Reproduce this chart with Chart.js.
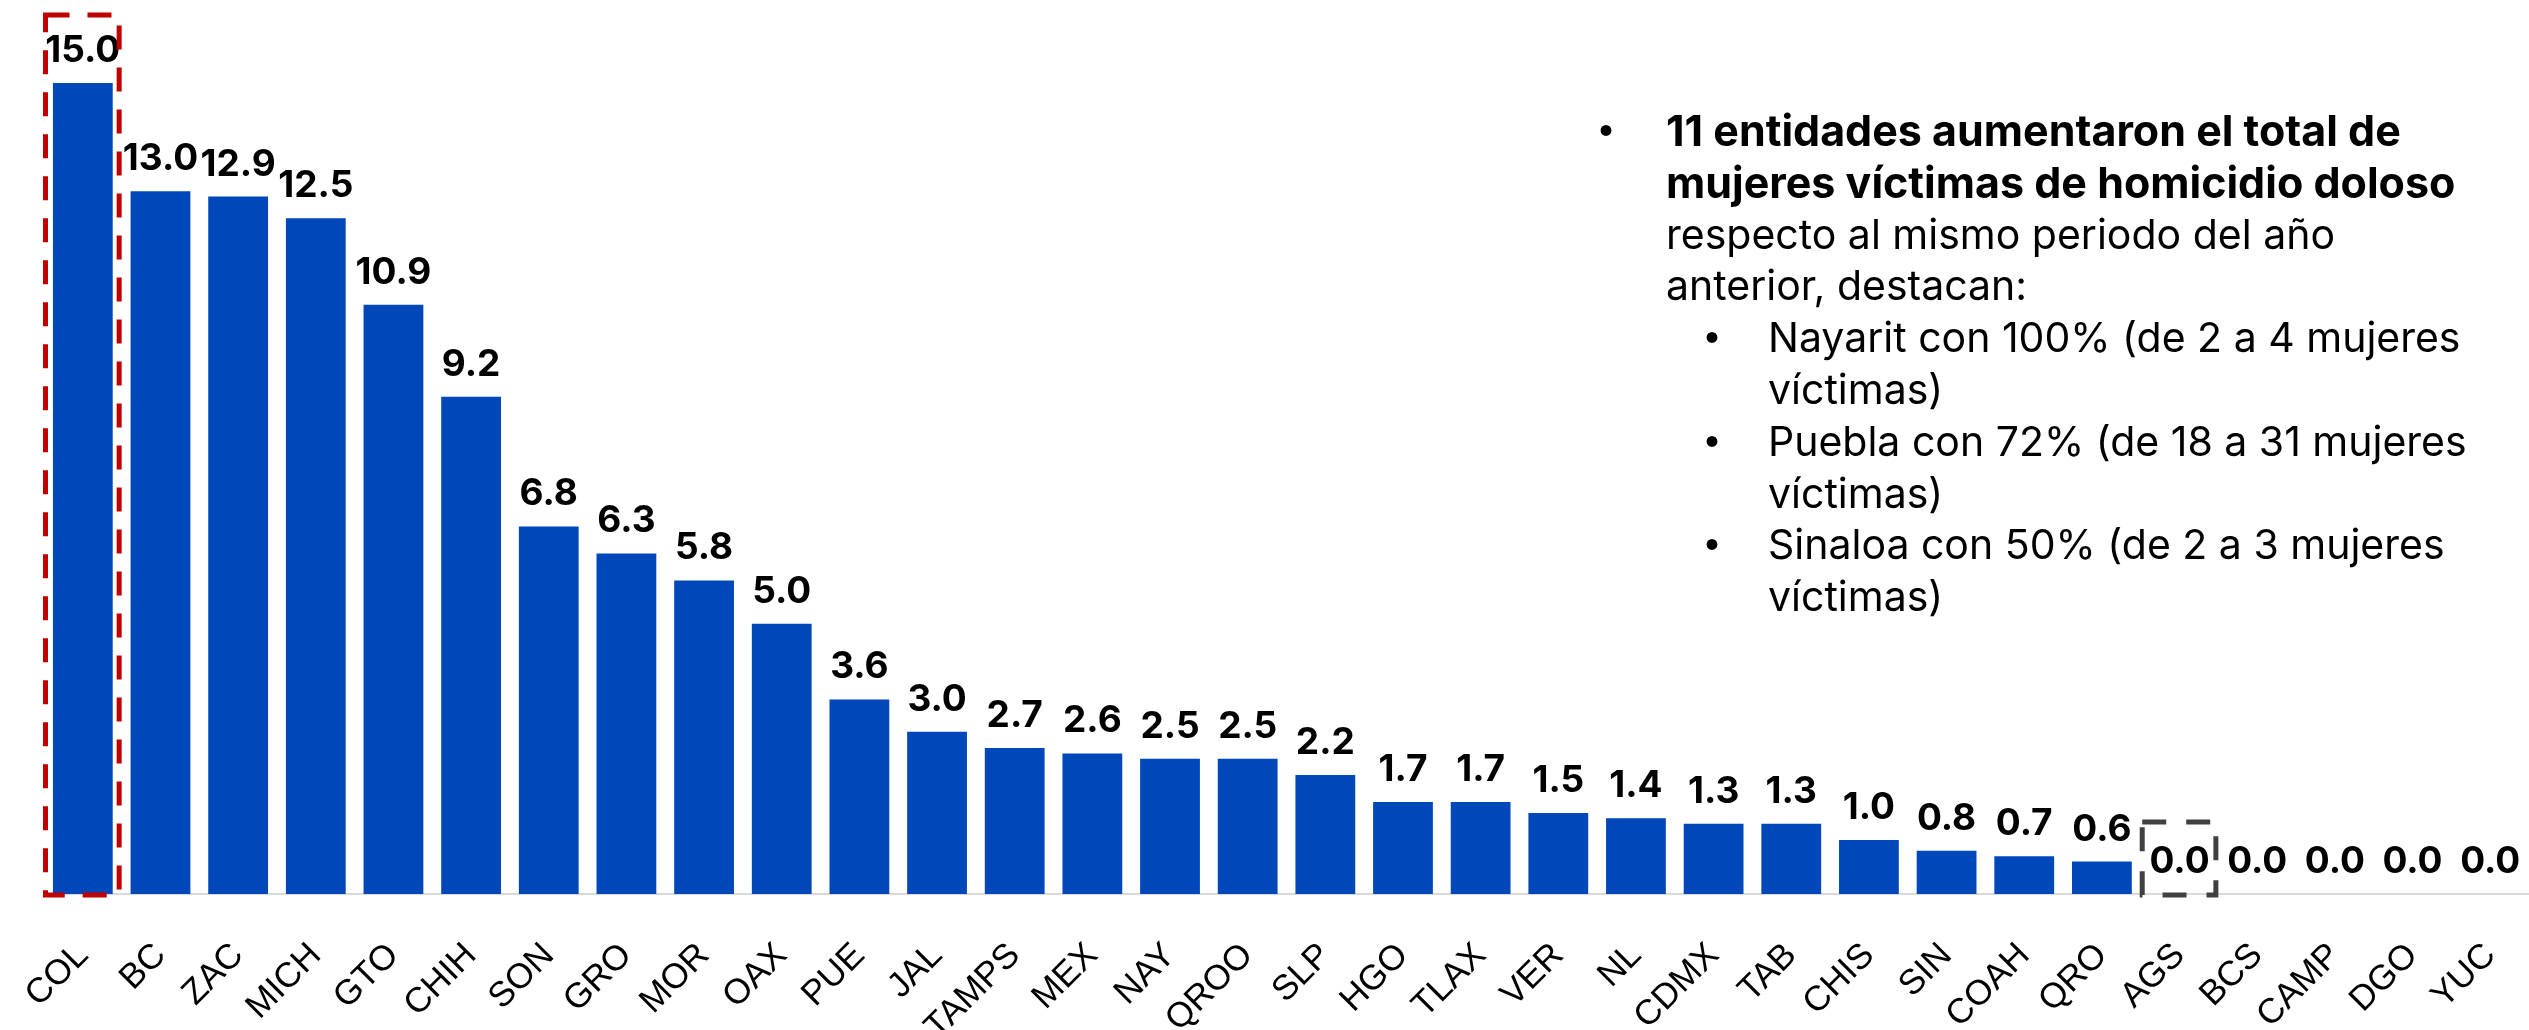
<!DOCTYPE html>
<html>
<head>
<meta charset="utf-8">
<script src="https://cdn.jsdelivr.net/npm/chart.js@4.4.1/dist/chart.umd.min.js"></script>
<style>
  html, body { margin:0; padding:0; background:#fff; }
  body { width:2529px; height:1030px; overflow:hidden; position:relative; }
  #wrap { position:absolute; left:0; top:0; width:2529px; height:1030px; }
  #note { position:absolute; left:1590px; top:105px; width:930px; color:#000; line-height:51.8px; }
  #note .ln { position:relative; white-space:nowrap; height:51.8px; }
  #note .b { font-family:'Inter', sans-serif; font-weight:700; font-size:43px; padding-left:76px; }
  #note .r { font-family:'Inter', sans-serif; font-weight:400; font-size:41px; padding-left:76px; }
  #note .s { padding-left:178px; }
  #note .bul { position:absolute; font-family:'Liberation Sans', sans-serif; font-weight:400; font-size:40px; }
  #note .bul.m { left:9px; }
  #note .bul.sb { left:115px; }
</style>
</head>
<body>
<div id="wrap"><canvas id="c"></canvas></div>
<div id="note">
  <div class="ln b"><span class="bul m">•</span>11 entidades aumentaron el total de</div>
  <div class="ln b">mujeres víctimas de homicidio doloso</div>
  <div class="ln r">respecto al mismo periodo del año</div>
  <div class="ln r">anterior, destacan:</div>
  <div class="ln r s"><span class="bul sb">•</span>Nayarit con 100% (de 2 a 4 mujeres</div>
  <div class="ln r s">víctimas)</div>
  <div class="ln r s"><span class="bul sb">•</span>Puebla con 72% (de 18 a 31 mujeres</div>
  <div class="ln r s">víctimas)</div>
  <div class="ln r s"><span class="bul sb">•</span>Sinaloa con 50% (de 2 a 3 mujeres</div>
  <div class="ln r s">víctimas)</div>
</div>
<script>
const categories = ['COL','BC','ZAC','MICH','GTO','CHIH','SON','GRO','MOR','OAX','PUE','JAL','TAMPS','MEX','NAY','QROO','SLP','HGO','TLAX','VER','NL','CDMX','TAB','CHIS','SIN','COAH','QRO','AGS','BCS','CAMP','DGO','YUC'];
const values = [15.0,13.0,12.9,12.5,10.9,9.2,6.8,6.3,5.8,5.0,3.6,3.0,2.7,2.6,2.5,2.5,2.2,1.7,1.7,1.5,1.4,1.3,1.3,1.0,0.8,0.7,0.6,0.0,0.0,0.0,0.0,0.0];
const redBoxCategories = ['COL'];
const grayBoxCategories = ['AGS'];

const valueLabels = {
  id: 'valueLabels',
  afterDatasetsDraw(chart) {
    const ctx = chart.ctx;
    const meta = chart.getDatasetMeta(0);
    ctx.save();
    ctx.font = 'bold 37px "Inter", "Liberation Sans", sans-serif';
    ctx.fillStyle = '#000';
    ctx.textAlign = 'center';
    ctx.textBaseline = 'alphabetic';
    meta.data.forEach((bar, i) => {
      ctx.fillText(values[i].toFixed(1), bar.x, bar.y - 21);
    });
    ctx.restore();
  }
};

const dashedBoxes = {
  id: 'dashedBoxes',
  afterDraw(chart) {
    const ctx = chart.ctx;
    const meta = chart.getDatasetMeta(0);
    const xs = chart.scales.x;
    const half = (xs.getPixelForValue(1) - xs.getPixelForValue(0)) / 2;
    const draw = (names, color, dash, off) => {
      names.forEach(n => {
        const i = categories.indexOf(n);
        const bar = meta.data[i];
        const x0 = bar.x - half + 1.5, x1 = bar.x + half - 2.5;
        const y0 = bar.y - off, y1 = bar.base + 1;
        ctx.save();
        ctx.strokeStyle = color;
        ctx.lineWidth = 5;
        ctx.setLineDash(dash);
        ctx.strokeRect(x0, y0, x1 - x0, y1 - y0);
        ctx.restore();
      });
    };
    draw(redBoxCategories, '#C00000', [24, 18], 68);
    draw(grayBoxCategories, '#404040', [24, 20], 72);
  }
};

new Chart(document.getElementById('c'), {
  type: 'bar',
  data: {
    labels: categories,
    datasets: [{
      data: values,
      backgroundColor: '#0048BA',
      borderWidth: 0,
      categoryPercentage: 1,
      barPercentage: 0.77
    }]
  },
  options: {
    responsive: true,
    maintainAspectRatio: false,
    animation: false,
    layout: { padding: { left: 44, right: 0, top: 2, bottom: 0 } },
    plugins: { legend: { display: false }, tooltip: { enabled: false } },
    scales: {
      x: {
        grid: { display: false },
        border: { display: true, color: '#d9d9d9', width: 2 },
        ticks: {
          autoSkip: false, minRotation: 45, maxRotation: 45, padding: 33,
          color: '#000',
          font: { family: '"Liberation Sans", Arial, sans-serif', size: 35 }
        },
        afterFit(s) { s.height = 136; s.paddingLeft = 0; s.paddingRight = 0; }
      },
      y: { display: false, min: 0, max: 16.5 }
    }
  },
  plugins: [valueLabels, dashedBoxes]
});
</script>
</body>
</html>
